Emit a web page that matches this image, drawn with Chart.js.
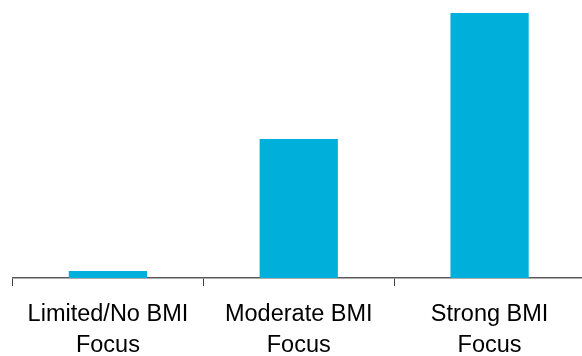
<!DOCTYPE html>
<html>
<head>
    <title>BMI focus</title>
    <script src="https://cdn.jsdelivr.net/npm/chart.js"></script>
    <style>
        body { margin: 0; background: #fff; overflow: hidden; }
        #box { width: 586px; height: 356px; position: relative; }
    </style>
</head>
<body>
    <div id="box">
        <canvas id="bmiChart"></canvas>
    </div>

<script>
// data (tallest bar = 100)
const categories = [
    ['Limited/No BMI', 'Focus'],
    ['Moderate BMI', 'Focus'],
    ['Strong BMI', 'Focus']
];
const values = [2.6, 52.5, 100];

const ctx = document.getElementById('bmiChart').getContext('2d');
new Chart(ctx, {
    type: 'bar',
    data: {
        labels: categories,
        datasets: [{
            data: values,
            backgroundColor: '#00AFDA',
            barPercentage: 0.41,
            categoryPercentage: 1
        }]
    },
    options: {
        responsive: true,
        maintainAspectRatio: false,
        animation: false,
        devicePixelRatio: 1,
        layout: {
            padding: { left: 12.5, top: 13, right: 1, bottom: 0 }
        },
        plugins: {
            legend: { display: false },
            tooltip: { enabled: false }
        },
        scales: {
            x: {
                grid: {
                    drawOnChartArea: false,
                    drawTicks: true,
                    tickLength: 8,
                    color: '#404040',
                    lineWidth: 1
                },
                border: {
                    display: true,
                    color: '#5a5a5a',
                    width: 1.5
                },
                ticks: {
                    color: '#000',
                    padding: 12.5,
                    maxRotation: 0,
                    font: { family: 'Liberation Sans', size: 23.5, lineHeight: 1.336 }
                },
                afterFit: function (axis) {
                    axis.height = 78;
                }
            },
            y: {
                display: false,
                min: 0,
                max: 100
            }
        }
    }
});
</script>
</body>
</html>
